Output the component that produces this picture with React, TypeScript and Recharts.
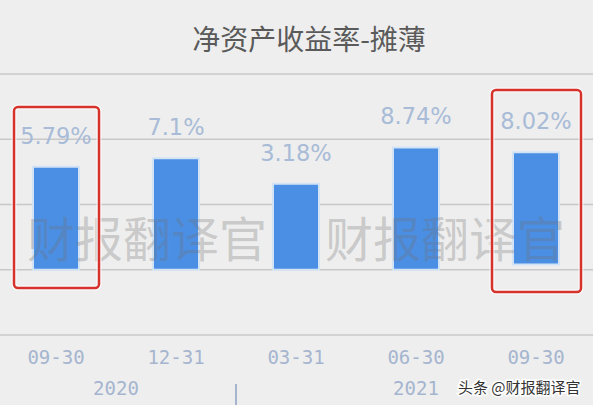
import React from 'react';
import { BarChart, Bar, XAxis, YAxis, CartesianGrid, LabelList } from 'recharts';

const categories = ['09-30', '12-31', '03-31', '06-30', '09-30'];
const years = ['2020', '2020', '2021', '2021', '2021'];
const roeValues = [5.79, 7.1, 3.18, 8.74, 8.02];
const barBases = [-10, -10, -10, -10, -9.2];
const yTicks = [-20, -10, 0, 10, 20];
const titleText = '净资产收益率-摊薄';
const watermarkText = '财报翻译官';
const creditText = '头条 @财报翻译官';

const data = categories.map((c, i) => ({
  key: `${years[i]}-${c}`,
  date: c,
  year: years[i],
  value: roeValues[i],
  range: [barBases[i], roeValues[i]],
}));

const W = 593;
const H = 405;
const CHART_W = 600;
const BAND = CHART_W / categories.length;
const AXIS_COLOR = '#a5b5cf';
const LABEL_COLOR = '#a8bbd7';

const DateTick = (props: any) => {
  const { x, y, payload } = props;
  const idx = payload?.index ?? 0;
  return (
    <text
      x={x}
      y={y + 14}
      textAnchor="middle"
      dominantBaseline="central"
      fill={AXIS_COLOR}
      fontSize={19}
      fontFamily="DejaVu Sans Mono"
    >
      {categories[idx]}
    </text>
  );
};

const YearTick = (props: any) => {
  const { x, y, payload } = props;
  const i = payload?.index ?? 0;
  const yr = years[i];
  const first = years.indexOf(yr);
  const last = years.lastIndexOf(yr);
  if (i !== first) return <g />;
  const cx = x + ((last - first) * BAND) / 2;
  return (
    <g>
      <text
        x={cx}
        y={y + 9}
        textAnchor="middle"
        dominantBaseline="central"
        fill={AXIS_COLOR}
        fontSize={19}
        fontFamily="DejaVu Sans Mono"
      >
        {yr}
      </text>
      {i > 0 && (
        <line x1={x - BAND / 2} x2={x - BAND / 2} y1={y + 5} y2={y + 30} stroke={AXIS_COLOR} strokeWidth={2} />
      )}
    </g>
  );
};

const ValueLabel = (props: any) => {
  const { x, y, width, value } = props;
  return (
    <text
      x={x + width / 2}
      y={y - 31}
      textAnchor="middle"
      dominantBaseline="central"
      fill={LABEL_COLOR}
      fontSize={22.5}
      fontFamily="DejaVu Sans"
    >
      {`${value}%`}
    </text>
  );
};

export default function App() {
  return (
    <div
      style={{
        position: 'absolute',
        left: 0,
        top: 0,
        width: W,
        height: H,
        overflow: 'hidden',
        background: '#eeeeee',
      }}
    >
      <svg width={W} height={H} style={{ position: 'absolute', left: 0, top: 0 }}>
        <text
          x={309}
          y={38}
          textAnchor="middle"
          dominantBaseline="central"
          fill="#5a5a5a"
          fontSize={28}
          fontFamily="Noto Sans CJK SC"
        >
          {titleText}
        </text>
      </svg>
      <div style={{ position: 'absolute', left: -4, top: 0 }}>
        <BarChart
          width={CHART_W}
          height={H}
          data={data}
          margin={{ top: 74, right: 0, bottom: 0, left: 0 }}
          barCategoryGap={0}
        >
          <CartesianGrid horizontal vertical={false} stroke="#c8c8c8" strokeWidth={1.5} />
          <YAxis hide type="number" domain={[-20, 20]} ticks={yTicks} />
          <XAxis
            dataKey="key"
            axisLine={false}
            tickLine={false}
            height={36}
            tick={<DateTick />}
            interval={0}
          />
          <XAxis
            xAxisId="year"
            dataKey="key"
            axisLine={false}
            tickLine={false}
            height={34}
            tick={<YearTick />}
            interval={0}
          />
          <Bar
            dataKey="range"
            fill="#4b8fe4"
            stroke="#d3e3f6"
            strokeWidth={2}
            barSize={46}
            isAnimationActive={false}
          >
            <LabelList dataKey="value" content={<ValueLabel />} />
          </Bar>
        </BarChart>
      </div>
      <svg width={W} height={H} style={{ position: 'absolute', left: 0, top: 0, pointerEvents: 'none' }}>
        <g fill="#707070" fillOpacity={0.3} fontSize={48} fontFamily="Noto Sans CJK SC">
          <text x={27} y={236} dominantBaseline="central">{watermarkText}</text>
          <text x={325} y={236} dominantBaseline="central">{watermarkText}</text>
        </g>
        <rect x={14} y={107} width={85} height={181} rx={4} fill="none" stroke="#ffffff" strokeOpacity={0.7} strokeWidth={5} />
        <rect x={14} y={107} width={85} height={181} rx={4} fill="none" stroke="#d6322b" strokeWidth={2.5} />
        <rect x={492} y={90} width={89} height={202} rx={4} fill="none" stroke="#ffffff" strokeOpacity={0.7} strokeWidth={5} />
        <rect x={492} y={90} width={89} height={202} rx={4} fill="none" stroke="#d6322b" strokeWidth={2.5} />
        <text
          x={458}
          y={386}
          dominantBaseline="central"
          fill="#333333"
          stroke="#ffffff"
          strokeWidth={3}
          paintOrder="stroke"
          fontSize={15}
          fontFamily="Noto Sans CJK SC"
        >
          {creditText}
        </text>
      </svg>
    </div>
  );
}
